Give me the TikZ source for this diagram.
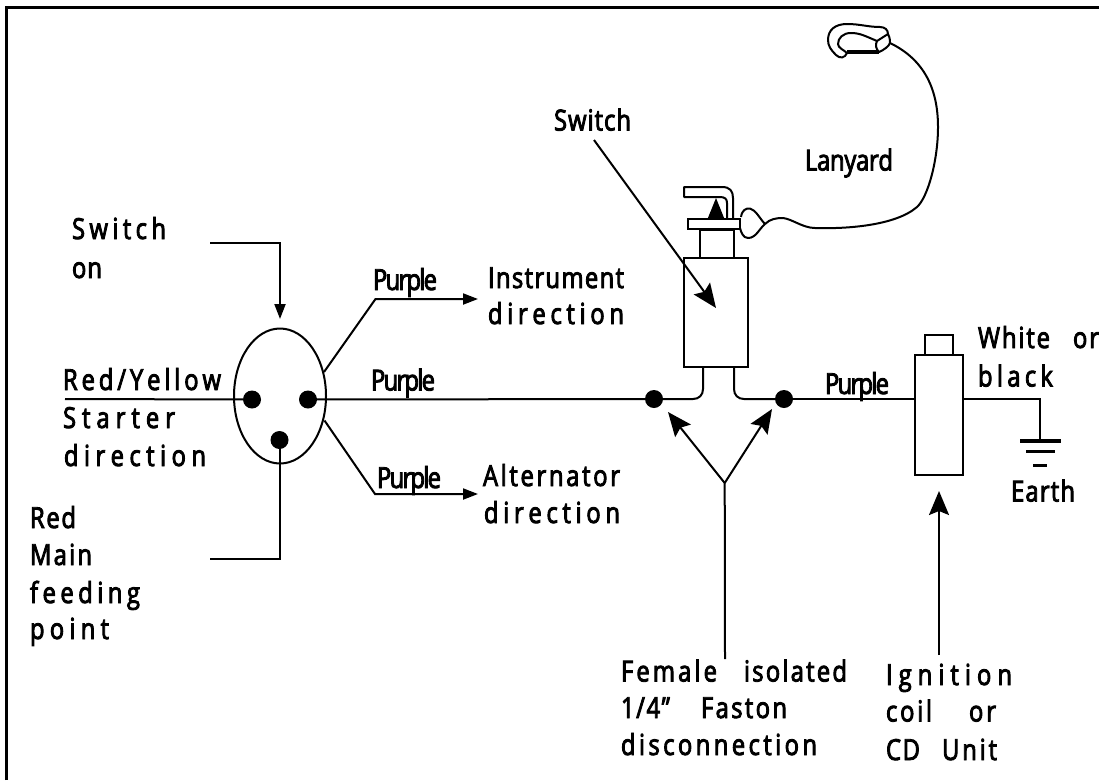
\documentclass[tikz,border=0pt]{standalone}
\usepackage{fontspec}
\usepackage{xparse}
\setmainfont{Open Sans}[FakeBold=3,FakeStretch=0.82]
\newfontfamily\lightf{Open Sans}[FakeBold=3,FakeStretch=0.82]
\usetikzlibrary{arrows.meta,shapes.geometric}
\ExplSyntaxOn
\NewDocumentCommand\fitword{mm}{\hbox~to~#1pt{\tl_map_inline:nn{#2}{##1\hskip~0pt~plus~1fil~minus~1fil\relax}\unskip}}
\ExplSyntaxOff
\tikzset{
  wire/.style={line width=2pt,draw=black},
  lbl/.style={anchor=base west,inner sep=0pt,outer sep=0pt,font=\fontsize{29}{29}\selectfont},
  lblt/.style={anchor=base west,inner sep=0pt,outer sep=0pt,font=\lightf\fontsize{29}{29}\selectfont},
  dotn/.style={circle,fill=black,draw=none,minimum size=18pt,inner sep=0pt},
  small/.style={wire,-{Triangle[length=15pt,width=11pt]}},
  big/.style={wire,-{Stealth[length=24pt,width=20pt,inset=4pt]}},
  part/.style={wire,fill=white}
}
\newcommand{\lab}[6][lbl]{\node[#1] (#2) at (#3,#4) {\fitword{#5}{#6}};}
\begin{document}
\begin{tikzpicture}[x=1pt,y=-1pt]
\useasboundingbox (0,0) rectangle (1099,780);
\fill[white] (0,0) rectangle (1099,780);
% frame
\draw[line width=3pt] (6.5,780) -- (6.5,7) -- (1099,7);

% named points
\coordinate (sl) at (65,399);
\coordinate (son) at (210,243);
\coordinate (sonk) at (280,243);
\coordinate (sonE) at (280,319);
\coordinate (red) at (210,558.5);
\coordinate (redk) at (279.5,558.5);
\coordinate (pu0) at (324,372);
\coordinate (pu1) at (375.5,299);
\coordinate (pu2) at (478,299);
\coordinate (pd0) at (324.5,420.5);
\coordinate (pd1) at (375,494);
\coordinate (pd2) at (478,494);
\coordinate (swa) at (594,140);
\coordinate (swb) at (716,308);
\coordinate (yj) at (724.7,483);
\coordinate (yb) at (725,659);
\coordinate (yl) at (668,412);
\coordinate (yr) at (772,409);
\coordinate (ca) at (939,655);
\coordinate (cb) at (939,491);
\coordinate (gk) at (1040,399);
\coordinate (g0) at (1040,440.5);

% connector
\node[ellipse,draw=black,line width=2pt,minimum width=92pt,minimum height=135pt,inner sep=0pt] (ell) at (280,396) {};
\node[dotn] (da) at (252,399.5) {};
\node[dotn] (db) at (308,399.5) {};
\node[dotn] (dc) at (279.5,440) {};
\node[dotn] (f1) at (654,399) {};
\node[dotn] (f2) at (784,399) {};

% wires
\draw[wire] (sl) -- (da);
\draw[wire] (db) -- (f1);
\draw[wire] (f1) -- (693,399) .. controls (699,399) and (703,395) .. (703,389) -- (703,367);
\draw[wire] (734,367) -- (734,389) .. controls (734,395) and (738,399) .. (744,399) -- (f2);
\draw[wire] (f2) -- (915,399);
\draw[wire] (963,399) -- (gk) -- (g0);
\draw[wire] (dc) -- (redk) -- (red);
\draw[small] (son) -- (sonk) -- (sonE);
\draw[small] (pu0) -- (pu1) -- (pu2);
\draw[small] (pd0) -- (pd1) -- (pd2);

% ground
\draw[line width=4pt] (1020,440.5) -- (1061,440.5);
\draw[line width=3pt] (1026,451.5) -- (1055,451.5);
\draw[line width=3pt] (1033,465) -- (1047,465);

% coil
\node[part,minimum width=28pt,minimum height=20pt,inner sep=0pt] (cap) at (939,345) {};
\node[part,minimum width=48pt,minimum height=120pt,inner sep=0pt] (coil) at (939,415) {};

% switch
\node[part,minimum width=64pt,minimum height=109pt,inner sep=0pt] (swbody) at (716,312.5) {};
\node[part,minimum width=34pt,minimum height=28pt,inner sep=0pt] (neck) at (717,244) {};
\draw[wire,line join=round] (733,219) -- (733,198) .. controls (733,191) and (730,187) .. (722,187) -- (684,187) -- (684,197) -- (720,197) .. controls (725,197) and (727,199) .. (727,203) -- (727,219);
\fill[black] (716,198) -- (724.5,219) -- (707.5,219) -- cycle;
\node[part,minimum width=52pt,minimum height=10pt,inner sep=0pt] (plate) at (714,224) {};

% lanyard
\draw[wire,line join=round] (741,217) .. controls (742,210) and (746,208) .. (750,208.5)
   .. controls (756,210) and (760,219) .. (765,224)
   .. controls (759,229) and (756,238) .. (748,238)
   .. controls (743,238) and (741,232) .. (740,228);
\draw[wire] (765,224) .. controls (770,219) and (776,218) .. (783,218)
   .. controls (792,219) and (803,228) .. (815,228)
   .. controls (845,229) and (895,226) .. (917,207)
   .. controls (928,197) and (938,160) .. (938,127)
   .. controls (938,90) and (925,60) .. (890,43);
\draw[wire,line join=round] (877,41) .. controls (865,36) and (860,33) .. (851,33)
   .. controls (843,33) and (838,38) .. (838,44)
   .. controls (838,48) and (844,50) .. (847,53)
   .. controls (845,58) and (840,59) .. (836,55)
   .. controls (831,50) and (828,46) .. (828,40)
   .. controls (828,30) and (835,24) .. (847,24)
   .. controls (860,24) and (868,27) .. (880,27)
   .. controls (885,27) and (888,30) .. (888,34) -- (877,41)
   .. controls (875,45) and (876,49) .. (879,52)
   .. controls (884,50) and (889,46) .. (890,43) .. controls (890,38) and (889,36) .. (888,34);
\draw[line width=3.5pt] (847,52) -- (879,52);

% arrows
\draw[big] (swa) -- (swb);
\draw[big] (yb) -- (yj) -- (yl);
\draw[big] (yj) -- (yr);
\draw[big] (ca) -- (cb);

% labels
\lab{t1}{72}{239}{94}{Switch}
\lab{t2}{72}{278}{30}{on}
\lab{t3}{63}{390}{158}{Red/Yellow}
\lab{t4}{63}{428}{112}{Starter}
\lab{t5}{64}{466}{142}{direction}
\lab{t6}{30}{528}{46}{Red}
\lab{t7}{30}{565}{62}{Main}
\lab{t8}{30}{603}{110}{feeding}
\lab{t9}{30}{639}{79}{point}
\lab[lblt]{p1}{373}{290}{64}{Purple}
\lab[lblt]{p2}{371}{390.5}{64}{Purple}
\lab[lblt]{p3}{377}{488}{64}{Purple}
\lab[lblt]{p4}{825}{394}{64}{Purple}
\lab{t10}{488}{288}{136}{Instrument}
\lab{t11}{488}{324}{136}{direction}
\lab{t12}{483}{486}{137}{Alternator}
\lab{t13}{484}{523}{136}{direction}
\lab[lblt]{t14}{554}{130.5}{77}{Switch}
\lab[lblt]{t15}{805}{170.5}{88}{Lanyard}
\lab{t16}{978}{348}{72}{White}
\lab{t17}{1073}{348}{26}{or}
\lab{t18}{978}{386.5}{75}{black}
\lab{t19}{1011}{501.5}{64}{Earth}
\lab{t20}{621}{681.5}{96}{Female}
\lab{t21}{744}{681.5}{103}{isolated}
\lab{t22}{621}{718}{49}{1/4"}
\lab{t23}{701}{718}{86}{Faston}
\lab{t24}{621}{755}{196}{disconnection}
\lab{t25}{886}{685}{126}{Ignition}
\lab{t26}{886}{721.5}{46}{coil}
\lab{t27}{969}{721.5}{27}{or}
\lab{t28}{886}{760}{34}{CD}
\lab{t29}{942}{760}{55}{Unit}
\end{tikzpicture}
\end{document}
